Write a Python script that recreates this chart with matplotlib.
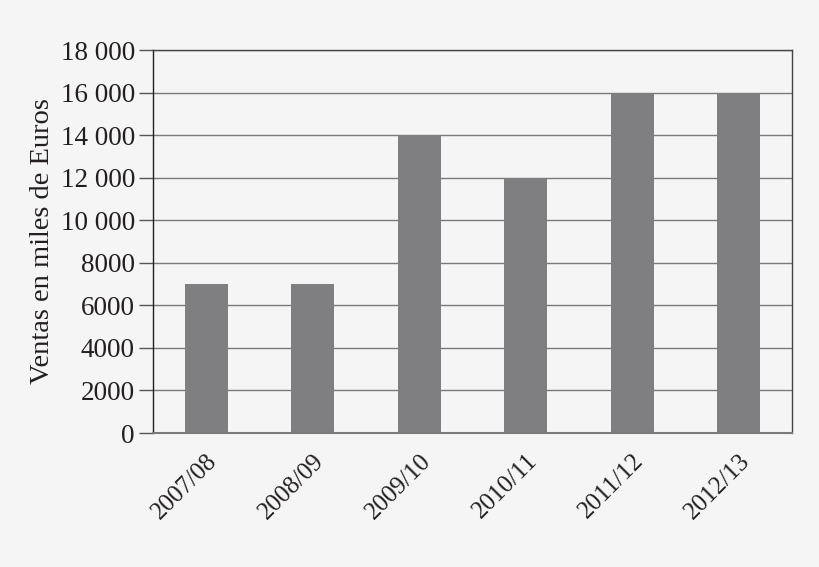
import matplotlib
matplotlib.use("Agg")
import matplotlib.pyplot as plt

categories = ["2007/08", "2008/09", "2009/10", "2010/11", "2011/12", "2012/13"]
ventas = [7000, 7000, 14000, 12000, 16000, 16000]
y_ticks = [0, 2000, 4000, 6000, 8000, 10000, 12000, 14000, 16000, 18000]
y_tick_labels = ["0", "2000", "4000", "6000", "8000", "10 000", "12 000", "14 000", "16 000", "18 000"]

plt.rcParams['font.family'] = ['Liberation Serif', 'DejaVu Serif']

bg = "#f5f5f5"
fig = plt.figure(figsize=(8.2, 5.67), dpi=100, facecolor=bg)
ax = fig.add_axes([0.1866, 0.2363, 0.7793, 0.6755])
ax.set_facecolor(bg)

x = list(range(len(categories)))
ax.set_axisbelow(True)
ax.yaxis.grid(True, color="#7a7a7a", linewidth=1.0)
ax.bar(x, ventas, width=0.4, color="#7f7f82", zorder=2)

ax.set_xlim(-0.5, len(categories) - 0.5)
ax.set_ylim(0, 18000)
ax.set_yticks(y_ticks)
ax.set_yticklabels(y_tick_labels, fontsize=19.5, color="#231f20")
ax.set_xticks(x)
ax.set_xticklabels(categories, rotation=45, ha="right", rotation_mode="anchor",
                   fontsize=18, color="#231f20")
ax.tick_params(axis="x", length=0, pad=12)
ax.tick_params(axis="y", length=10, width=1, color="#555555", pad=3)

for s in ["top", "right"]:
    ax.spines[s].set_color("#444444")
    ax.spines[s].set_linewidth(1.0)
ax.spines["left"].set_color("#231f20")
ax.spines["left"].set_linewidth(1.0)
ax.spines["bottom"].set_color("#7a7a7a")
ax.spines["bottom"].set_linewidth(1.5)

ax.set_ylabel("Ventas en miles de Euros", fontsize=20.5, color="#231f20", labelpad=4)

fig.savefig("out.png", dpi=100, facecolor=bg)
